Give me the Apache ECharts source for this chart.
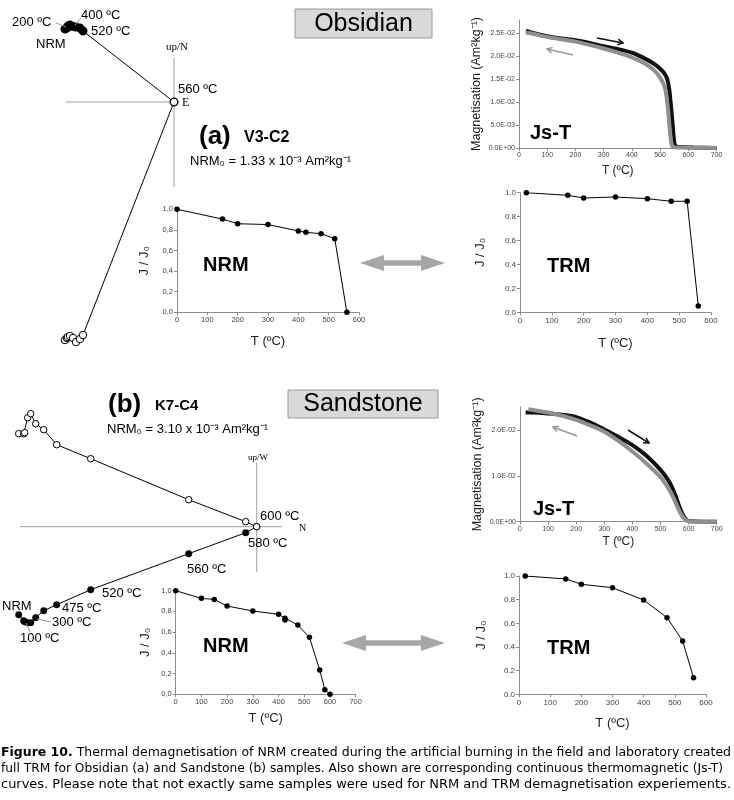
<!DOCTYPE html>
<html><head><meta charset="utf-8">
<script src="https://cdn.jsdelivr.net/npm/echarts@6/dist/echarts.min.js"></script>
<style>html,body{margin:0;padding:0;background:#fff}#c{width:734px;height:800px}</style>
</head><body><div id="c"></div>
<script>
// ---------- DATA ----------
// (a) Obsidian V3-C2 Zijderveld (arbitrary units, origin = 560 ºC)
const zijA_temps = [0,150,200,300,400,425,475,520,560];
const zijA_E  = [-10.9,-10.7,-10.6,-10.4,-10.1,-9.8,-9.4,-9.1,0];
const zijA_N  = [7.3,7.4,7.6,7.7,7.55,7.5,7.4,7.1,0];
const zijA_Up = [-23.8,-23.6,-23.5,-23.4,-23.6,-24.0,-23.7,-23.3,0];
const zijA_axisH = [[-10.8,0],[0,0]];
const zijA_axisV = [[0,4.4],[0,-8.5]];
// (b) Sandstone K7-C4 Zijderveld (origin = 600 ºC)
const zijB_temps = [0,100,150,200,300,400,425,475,520,560,580,600];
const zijB_N  = [-23.8,-23.3,-23.2,-22.9,-22.6,-22.1,-21.3,-20.0,-16.6,-6.8,-1.1,0];
const zijB_W  = [-8.8,-9.4,-9.5,-9.6,-9.6,-9.1,-8.4,-7.8,-6.3,-2.7,-0.6,0];
const zijB_Up = [9.3,9.3,9.4,10.9,11.3,10.3,9.7,8.2,6.8,2.7,0.5,0];
const zijB_axisH = [[-23.7,0],[2.5,0]];
const zijB_axisV = [[0,6.4],[0,-4.5]];

// NRM / TRM demagnetisation
const nrmA_T = [0,150,200,300,400,425,475,520,560];
const nrmA_J = [1.0,0.905,0.86,0.852,0.79,0.776,0.763,0.715,0.0];
const trmA_T = [20,150,200,300,400,475,525,560];
const trmA_J = [1.0,0.978,0.956,0.964,0.95,0.928,0.928,0.053];
const nrmB_T = [0,100,150,200,300,400,425,425,475,520,560,580,600];
const nrmB_J = [1.0,0.926,0.916,0.852,0.804,0.772,0.735,0.718,0.669,0.55,0.235,0.045,0.0];
const trmB_T = [20,150,200,300,400,475,525,560];
const trmB_J = [1.0,0.975,0.93,0.901,0.797,0.648,0.451,0.14];

// Js-T curves
const jsA_heatT = [25,50,100,150,200,250,300,350,400,450,480,500,515,525,532,538,544,548,552,560,580,620,700];
const jsA_heatM = [0.0255,0.0250,0.0243,0.0238,0.0234,0.0228,0.0221,0.0215,0.0207,0.0193,0.0182,0.0172,0.0162,0.0150,0.0130,0.0095,0.0055,0.0025,0.0008,0.0003,0.0002,0.0001,0.0];
const jsA_coolT = [25,50,100,150,200,250,300,350,400,450,480,500,515,522,528,533,537,541,545,560,600,700];
const jsA_coolM = [0.0251,0.0248,0.0241,0.0236,0.0231,0.0224,0.0216,0.0207,0.0197,0.0182,0.0168,0.0153,0.0135,0.0115,0.0085,0.0050,0.0025,0.0008,0.0003,0.0001,0.0001,0.0];
const jsB_heatT = [20,50,100,150,200,250,300,350,400,450,500,530,550,570,585,595,605,650,700];
const jsB_heatM = [0.0238,0.0238,0.0236,0.0233,0.0228,0.0216,0.0201,0.0185,0.0167,0.0144,0.0113,0.0088,0.0062,0.0028,0.0009,0.0003,0.0001,0.0,0.0];
const jsB_coolT = [30,50,100,150,200,250,300,350,400,450,500,530,550,570,585,600,620,700];
const jsB_coolM = [0.0245,0.0243,0.0238,0.0231,0.0222,0.0210,0.0196,0.0176,0.0153,0.0127,0.0097,0.0071,0.0047,0.0020,0.0006,0.0001,0.0,0.0];

// Caption lines
const captionBold = 'Figure 10.';
const captionLines = [
  ' Thermal demagnetisation of NRM created during the artificial burning in the field and laboratory created',
  'full TRM for Obsidian (a) and Sandstone (b) samples. Also shown are corresponding continuous thermomagnetic (Js-T)',
  'curves. Please note that not exactly same samples were used for NRM and TRM demagnetisation experiements.'
];

// ---------- HELPERS ----------
const zip = (a,b) => a.map((v,i)=>[v,b[i]]);
const SANS = 'Liberation Sans, Arial, sans-serif';
const SERIF = 'Liberation Serif, Times New Roman, serif';
function fmtE(v){
  if (Math.abs(v) < 1e-12) return '0.0E+00';
  let e = Math.floor(Math.log10(Math.abs(v)) + 1e-9);
  let m = v/Math.pow(10,e);
  return m.toFixed(1)+'E'+(e<0?'-':'+')+String(Math.abs(e)).padStart(2,'0');
}
const fmtComma = v => v.toFixed(1).replace('.',',');
const fmtDot = v => v.toFixed(1);
function ax(gi, min, max, interval, fmt, name, gap, labSize, nameSize){
  return {
    gridIndex: gi, type:'value', min, max, interval,
    name, nameLocation:'middle', nameGap: gap,
    nameTextStyle:{color:'#222', fontFamily:SANS, fontSize:nameSize||13},
    axisLine:{show:true,onZero:false,lineStyle:{color:'#8c8c8c',width:1}},
    axisTick:{show:true,length:3,lineStyle:{color:'#8c8c8c'}},
    splitLine:{show:false},
    axisLabel:{color:'#444', fontFamily:SANS, fontSize:labSize||8, margin:4, formatter:fmt, showMaxLabel: true}
  };
}
function hid(gi,min,max){ return {gridIndex:gi,type:'value',min,max,show:false,splitLine:{show:false}}; }
function grid(l,t,w,h){ return {left:l,top:t,width:w,height:h,containLabel:false,outerBoundsMode:'none'}; }
function txt(x,y,text,size,opt){
  opt = opt||{};
  return {type:'text', x, y, z:50, style:{text, fontSize:size, fontFamily:opt.family||SANS, fontWeight:opt.weight||'normal',
    fill:opt.fill||'#000', textAlign:opt.align||'left', textVerticalAlign:'middle', rich:opt.rich}};
}
function gline(x1,y1,x2,y2,color,w){ return {type:'line', z:40, shape:{x1,y1,x2,y2}, style:{stroke:color,lineWidth:w||1}}; }
function harpoon(x1,y1,x2,y2,color,w,barb){
  const a = Math.atan2(y2-y1,x2-x1);
  const b1 = a+Math.PI-0.5, b2 = a+Math.PI+0.5;
  return {type:'group', z:40, children:[
    {type:'line', shape:{x1,y1,x2,y2}, style:{stroke:color,lineWidth:w}},
    {type:'polyline', shape:{points:[[x2+barb*Math.cos(b1),y2+barb*Math.sin(b1)],[x2,y2],[x2+barb*Math.cos(b2),y2+barb*Math.sin(b2)]]}, style:{stroke:color,lineWidth:w,fill:null}}
  ]};
}
function dblArrow(x1,x2,y,color){
  const hl=24, hh=8, sh=2.7;
  return {type:'polygon', z:40, shape:{points:[[x1,y],[x1+hl,y-hh],[x1+hl,y-sh],[x2-hl,y-sh],[x2-hl,y-hh],[x2,y],[x2-hl,y+hh],[x2-hl,y+sh],[x1+hl,y+sh],[x1+hl,y+hh]]}, style:{fill:color}};
}

const grids = [
  grid(54,12,140,350),          // 0 Zij a
  grid(519,20,197.5,128),       // 1 Js-T a
  grid(177,209.3,182,103),      // 2 NRM a
  grid(520,192.7,191,119.6),    // 3 TRM a
  grid(6.7,386.7,280,260),      // 4 Zij b
  grid(520,407,196.7,114.7),    // 5 Js-T b
  grid(175.7,590.7,180,103.6),  // 6 NRM b
  grid(519,576,187,118.3)       // 7 TRM b
];
const xAxes = [
  hid(0,-12,2),
  ax(1,0,700,100,v=>v,'T (ºC)',17,7,12),
  ax(2,0,600,100,v=>v,'T (ºC)',23,7.5,13),
  ax(3,0,600,100,v=>v,'T (ºC)',25,8,13),
  hid(4,-25,3),
  ax(5,0,700,100,v=>v,'T (ºC)',14,7,12),
  ax(6,0,700,100,v=>v,'T (ºC)',18,7.5,13),
  ax(7,0,600,100,v=>v,'T (ºC)',23,8,13)
];
const yAxes = [
  hid(0,-26,9),
  ax(1,0,0.0278,0.005,fmtE,'Magnetisation (Am²kg⁻¹)',36,7,12.5),
  ax(2,0,1,0.2,fmtComma,'J / J₀',26,7.5,13),
  ax(3,0,1,0.2,fmtDot,'J / J₀',33,8,13),
  hid(4,-12,14),
  ax(5,0,0.025,0.01,fmtE,'Magnetisation (Am²kg⁻¹)',36,7,12.5),
  ax(6,0,1,0.2,fmtComma,'J / J₀',24,7.5,13),
  ax(7,0,1,0.2,fmtDot,'J / J₀',31,8,13)
];
yAxes[1].axisLabel.showMaxLabel = false;
yAxes[5].axisLabel.showMaxLabel = false;

function axisSeries(gi, pts){
  return {type:'line', xAxisIndex:gi, yAxisIndex:gi, data:pts, symbol:'none', silent:true,
    lineStyle:{color:'#a0a0a0', width:1}, z:1, animation:false};
}
function zijSeries(gi, xs, ys, filled, size){
  return {type:'line', xAxisIndex:gi, yAxisIndex:gi, data:zip(xs,ys), symbol:'circle', symbolSize:size,
    showAllSymbol:true, lineStyle:{color:'#000', width:1}, z: filled?3:4,
    itemStyle: filled ? {color:'#000', borderColor:'#000', borderWidth:0.5} : {color:'#fff', borderColor:'#000', borderWidth:1},
    animation:false};
}
function demagSeries(gi, xs, ys){
  return {type:'line', xAxisIndex:gi, yAxisIndex:gi, data:zip(xs,ys), symbol:'circle', symbolSize:5.5, showAllSymbol:true,
    lineStyle:{color:'#000', width:1}, itemStyle:{color:'#000'}, animation:false};
}
function jsSeries(gi, xs, ys, color){
  return {type:'line', xAxisIndex:gi, yAxisIndex:gi, data:zip(xs,ys), symbol:'none', smooth:0.3,
    lineStyle:{color, width:4}, animation:false};
}

const series = [
  axisSeries(0, zijA_axisH), axisSeries(0, zijA_axisV),
  zijSeries(0, zijA_E, zijA_N, true, 8.5),
  zijSeries(0, zijA_E, zijA_Up, false, 7.5),
  jsSeries(1, jsA_heatT, jsA_heatM, '#111'),
  jsSeries(1, jsA_coolT, jsA_coolM, '#8f8f8f'),
  demagSeries(2, nrmA_T, nrmA_J),
  demagSeries(3, trmA_T, trmA_J),
  axisSeries(4, zijB_axisH), axisSeries(4, zijB_axisV),
  zijSeries(4, zijB_N, zijB_W, true, 6.5),
  zijSeries(4, zijB_N, zijB_Up, false, 6.5),
  jsSeries(5, jsB_heatT, jsB_heatM, '#111'),
  jsSeries(5, jsB_coolT, jsB_coolM, '#8f8f8f'),
  demagSeries(6, nrmB_T, nrmB_J),
  demagSeries(7, trmB_T, trmB_J)
];

// caption: condensed font stretched to the justified width of the reference
const capFam = 'DejaVu Sans Condensed, Liberation Sans Narrow, DejaVu Sans, sans-serif';
const capSize = 12.5;
const mctx = document.createElement('canvas').getContext('2d');
function measure(t, bold){ mctx.font = (bold?'bold ':'') + capSize + 'px ' + capFam; return mctx.measureText(t).width; }
const capTargets = [730, 722, 730];
const capY = [753, 769, 785];
const capGraphics = captionLines.map((line, i) => {
  const w = measure(line,false) + (i===0 ? measure(captionBold,true) : 0);
  const sx = capTargets[i] / w;
  const text = i===0 ? '{b|'+captionBold+'}'+line : line;
  return {type:'text', x:1, y:capY[i], scaleX:sx, z:50,
    style:{text, fontSize:capSize, fontFamily:capFam, fill:'#000', textVerticalAlign:'middle',
      rich:{b:{fontWeight:'bold', fontFamily:capFam, fontSize:capSize, fill:'#000'}}}};
});

const graphic = [
  // boxes
  {type:'rect', z:30, shape:{x:295,y:9,width:137,height:29}, style:{fill:'#d9d9d9', stroke:'#9a9a9a', lineWidth:1}},
  txt(363.5,24,'Obsidian',25,{align:'center'}),
  {type:'rect', z:30, shape:{x:288,y:390,width:150,height:28}, style:{fill:'#d9d9d9', stroke:'#9a9a9a', lineWidth:1}},
  txt(363,404.5,'Sandstone',25,{align:'center'}),
  // (a) titles
  txt(199,137,'(a)',26,{weight:'bold'}),
  txt(244,138,'V3-C2',16,{weight:'bold'}),
  txt(190,161,'NRM₀ = 1.33 x 10⁻³ Am²kg⁻¹',13),
  // (b) titles
  txt(108,405,'(b)',26,{weight:'bold'}),
  txt(155,406,'K7-C4',15,{weight:'bold'}),
  txt(107,429,'NRM₀ = 3.10 x 10⁻³ Am²kg⁻¹',13),
  // Zij a labels
  txt(12,22,'200 ºC',13), txt(81,15,'400 ºC',13), txt(91,31,'520 ºC',13), txt(36,44,'NRM',13),
  txt(178,89,'560 ºC',13), txt(182,103,'E',12,{family:SERIF}), txt(166,47,'up/N',11,{family:SERIF}),
  gline(56,23,66,27,'#999',1), gline(81,18,75,25,'#999',1),
  // Zij b labels
  txt(260,516,'600 ºC',13), txt(299,528,'N',10,{family:SERIF}), txt(248,458,'up/W',9,{family:SERIF}),
  txt(248,543,'580 ºC',13), txt(187,569,'560 ºC',13), txt(102,593,'520 ºC',13),
  txt(62,608,'475 ºC',13), txt(52,622,'300 ºC',13), txt(2,606,'NRM',13), txt(20,638,'100 ºC',13),
  gline(37,619,51,622,'#999',1), gline(26,623,30,632,'#999',1),
  // panel texts
  txt(530,133,'Js-T',20,{weight:'bold'}),
  txt(533,509,'Js-T',20,{weight:'bold'}),
  txt(203,265,'NRM',20,{weight:'bold'}),
  txt(547,266,'TRM',20,{weight:'bold'}),
  txt(203,646,'NRM',20,{weight:'bold'}),
  txt(547,648,'TRM',20,{weight:'bold'}),
  // arrows
  harpoon(597,38,623,43,'#111',1.5,6),
  harpoon(573,55,547,49,'#999',1.5,6),
  harpoon(628,430,649,443,'#111',1.5,6),
  harpoon(577,436,553,427,'#999',1.5,6),
  dblArrow(360,445,263,'#a6a6a6'),
  dblArrow(342,445,643,'#a6a6a6')
].concat(capGraphics);

const chart = echarts.init(document.getElementById('c'), null, {renderer:'canvas'});
chart.setOption({
  animation:false, backgroundColor:'#fff',
  grid: grids, xAxis: xAxes, yAxis: yAxes, series, graphic
});
</script></body></html>
